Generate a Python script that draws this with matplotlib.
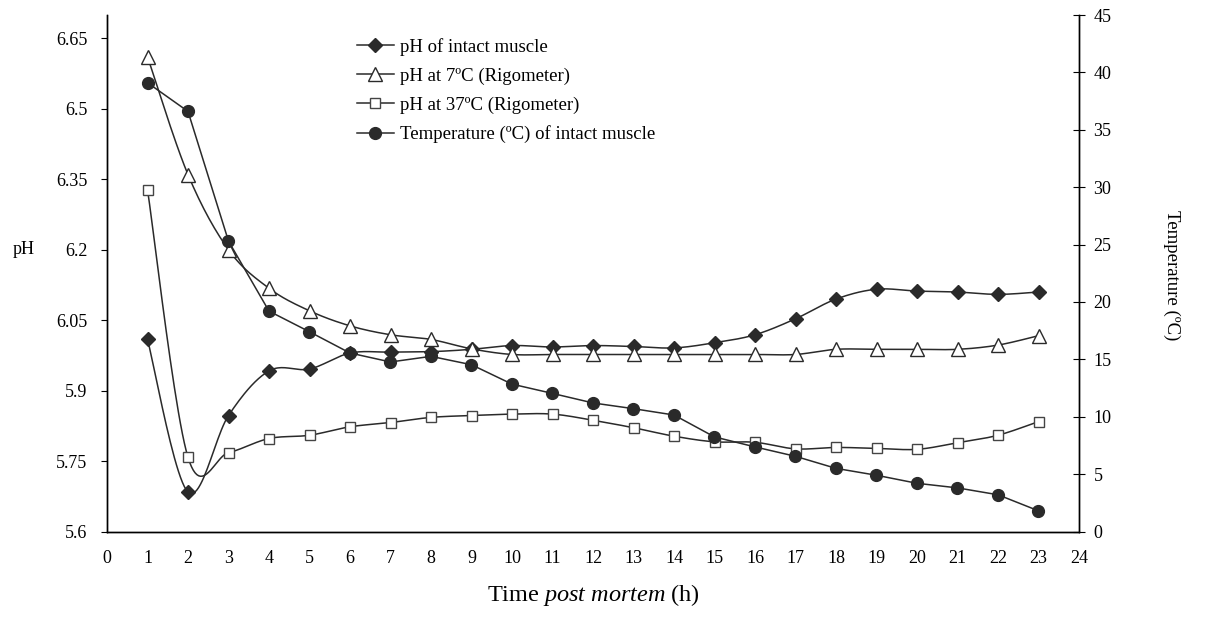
import numpy as np
import matplotlib
matplotlib.use("Agg")
import matplotlib.pyplot as plt
from matplotlib.lines import Line2D

plt.rcParams['font.family'] = ['Liberation Serif', 'DejaVu Serif']
plt.rcParams['mathtext.fontset'] = 'custom'
plt.rcParams['mathtext.rm'] = 'Liberation Serif'
plt.rcParams['mathtext.it'] = 'Liberation Serif:italic'

hours = list(range(1, 24))
x_ticks = list(range(0, 25))
ph_ticks = [5.6, 5.75, 5.9, 6.05, 6.2, 6.35, 6.5, 6.65]
ph_tick_labels = ["5.6", "5.75", "5.9", "6.05", "6.2", "6.35", "6.5", "6.65"]
temp_ticks = [0, 5, 10, 15, 20, 25, 30, 35, 40, 45]

ph_intact = [6.009, 5.684, 5.847, 5.942, 5.946, 5.980, 5.982, 5.983, 5.988, 5.996,
             5.993, 5.996, 5.994, 5.991, 6.002, 6.019, 6.053, 6.095, 6.116, 6.112,
             6.110, 6.105, 6.110]
ph_7c = [6.611, 6.360, 6.200, 6.118, 6.070, 6.038, 6.019, 6.009, 5.989, 5.977,
         5.977, 5.977, 5.977, 5.977, 5.977, 5.977, 5.977, 5.988, 5.988, 5.988,
         5.988, 5.997, 6.017]
ph_37c = [6.328, 5.758, 5.768, 5.798, 5.805, 5.823, 5.832, 5.843, 5.847, 5.850,
          5.850, 5.837, 5.821, 5.803, 5.791, 5.790, 5.776, 5.779, 5.777, 5.775,
          5.789, 5.805, 5.834]
temp_intact = [39.1, 36.6, 25.3, 19.2, 17.4, 15.55, 14.77, 15.26, 14.53, 12.84,
               12.03, 11.2, 10.7, 10.15, 8.24, 7.37, 6.55, 5.5, 4.9, 4.2,
               3.8, 3.2, 1.8]

labels = ["pH of intact muscle", "pH at 7ºC (Rigometer)",
          "pH at 37ºC (Rigometer)", "Temperature (ºC) of intact muscle"]


def excel_smooth(x, y, n=24):
    x = np.asarray(x, float)
    y = np.asarray(y, float)
    P = np.column_stack([x, y])
    Pe = np.vstack([P[0], P, P[-1]])
    t = np.linspace(0, 1, n)[:, None]
    out = []
    for i in range(len(P) - 1):
        p0, p1, p2, p3 = Pe[i], Pe[i + 1], Pe[i + 2], Pe[i + 3]
        c1 = p1 + (p2 - p0) / 6.0
        c2 = p2 - (p3 - p1) / 6.0
        seg = ((1 - t) ** 3) * p1 + 3 * ((1 - t) ** 2) * t * c1 + 3 * (1 - t) * t ** 2 * c2 + t ** 3 * p2
        out.append(seg if i == 0 else seg[1:])
    out = np.vstack(out)
    return out[:, 0], out[:, 1]


W, H = 1207, 621
fig = plt.figure(figsize=(W / 100, H / 100), dpi=100)
L, R, B, T = 107, 1079, 531.5, 15
ax = fig.add_axes([L / W, (H - B) / H, (R - L) / W, (B - T) / H])
ax2 = ax.twinx()

lc = '#2a2a2a'
mk_dark = '#2a2a2a'
ms_d, ms_t, ms_s, ms_c = 6.8, 9.5, 6.8, 8.5

sx, sy = excel_smooth(hours, ph_intact)
ax.plot(sx, sy, color=lc, lw=1.1, zorder=3)
ax.plot(hours, ph_intact, ls='none', marker='D', ms=ms_d, mfc=mk_dark, mec=mk_dark, zorder=4)

sx, sy = excel_smooth(hours, ph_7c)
ax.plot(sx, sy, color=lc, lw=1.1, zorder=3)
ax.plot(hours, ph_7c, ls='none', marker='^', ms=ms_t, mfc='white', mec=lc, mew=1.0, zorder=4)

sx, sy = excel_smooth(hours, ph_37c)
ax.plot(sx, sy, color=lc, lw=1.1, zorder=3)
ax.plot(hours, ph_37c, ls='none', marker='s', ms=ms_s, mfc='white', mec='#444444', mew=1.0, zorder=4)

ax2.plot(hours, temp_intact, color=lc, lw=1.1, marker='o', ms=ms_c, mfc=mk_dark, mec=mk_dark, zorder=4)

ax.set_xlim(0, 24)
ax.set_ylim(5.6, 6.7)
ax2.set_ylim(0, 45)
ax.set_xticks(x_ticks)
ax.set_xticklabels([str(v) for v in x_ticks])
ax.set_yticks(ph_ticks)
ax.set_yticklabels(ph_tick_labels)
ax2.set_yticks(temp_ticks)

for a in (ax, ax2):
    a.spines['top'].set_visible(False)
    for s in a.spines.values():
        s.set_color('black')
        s.set_linewidth(1.0)

ax.tick_params(axis='x', length=0, pad=13, labelsize=13)
ax.tick_params(axis='y', direction='out', length=4, pad=10, labelsize=13)
ax2.tick_params(axis='y', direction='inout', length=9, pad=6, labelsize=13)

fig.text(24 / W, 1 - 249 / H, "pH", ha='center', va='center', fontsize=13)
fig.text(1172 / W, 1 - 275 / H, "Temperature (ºC)", ha='center', va='center',
         rotation=-90, fontsize=13.5)
ax.set_xlabel("Time $\\mathit{post\\ mortem}$ (h)", fontsize=17.5, labelpad=11)

handles = [
    Line2D([], [], color=lc, lw=1.1, marker='D', ms=ms_d, mfc=mk_dark, mec=mk_dark),
    Line2D([], [], color=lc, lw=1.1, marker='^', ms=ms_t, mfc='white', mec=lc),
    Line2D([], [], color=lc, lw=1.1, marker='s', ms=ms_s, mfc='white', mec='#444444'),
    Line2D([], [], color=lc, lw=1.1, marker='o', ms=ms_c, mfc=mk_dark, mec=mk_dark),
]
fig.legend(handles, labels, loc='upper left', bbox_to_anchor=(357 / W, 1 - 38 / H),
           frameon=False, fontsize=13.5, handlelength=1.95, handletextpad=0.37,
           labelspacing=0.62, borderaxespad=0, borderpad=0)

fig.savefig("out.png", dpi=100)
